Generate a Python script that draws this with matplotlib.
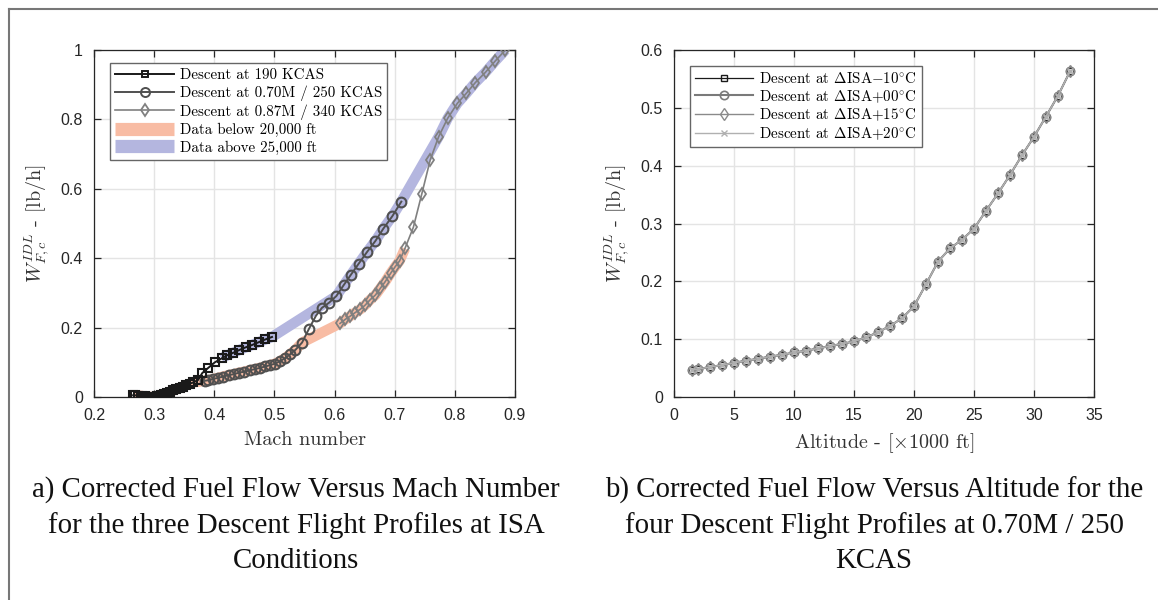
import matplotlib
matplotlib.use("Agg")
import matplotlib.pyplot as plt
from matplotlib.lines import Line2D

plt.rcParams['mathtext.fontset'] = 'cm'
plt.rcParams['axes.unicode_minus'] = False

# ---- panel a: corrected fuel flow vs Mach ----
mach_190 = [0.265, 0.268, 0.273, 0.279, 0.284, 0.289, 0.295, 0.300, 0.305, 0.311,
            0.316, 0.321, 0.327, 0.332, 0.337, 0.343, 0.348, 0.353, 0.359, 0.365,
            0.373, 0.380, 0.390, 0.401, 0.412, 0.421, 0.431, 0.441, 0.452, 0.463,
            0.474, 0.485, 0.496]
wf_190 = [0.005, 0.005, 0.004, 0.003, 0.002, 0.001, 0.000, 0.000, 0.002, 0.005,
          0.008, 0.011, 0.015, 0.019, 0.022, 0.026, 0.030, 0.034, 0.038, 0.042,
          0.049, 0.069, 0.084, 0.100, 0.111, 0.120, 0.127, 0.135, 0.143, 0.150,
          0.158, 0.166, 0.173]

mach_250 = [0.385, 0.389, 0.398, 0.406, 0.415, 0.424, 0.433, 0.441, 0.450, 0.459,
            0.467, 0.476, 0.485, 0.493, 0.501, 0.509, 0.518, 0.526, 0.535, 0.546,
            0.557, 0.569, 0.579, 0.591, 0.603, 0.615, 0.627, 0.640, 0.654, 0.668,
            0.681, 0.696, 0.711]
wf_250 = [0.047, 0.048, 0.052, 0.055, 0.059, 0.063, 0.066, 0.070, 0.073, 0.077,
          0.080, 0.084, 0.088, 0.092, 0.096, 0.103, 0.112, 0.123, 0.136, 0.157,
          0.195, 0.234, 0.257, 0.272, 0.291, 0.322, 0.352, 0.384, 0.418, 0.450,
          0.485, 0.521, 0.563]

mach_340 = [0.609, 0.618, 0.626, 0.634, 0.643, 0.651, 0.659, 0.668, 0.676, 0.684,
            0.693, 0.701, 0.708, 0.717, 0.731, 0.745, 0.759, 0.773, 0.788, 0.804,
            0.819, 0.834, 0.851, 0.867, 0.884]
wf_340 = [0.212, 0.224, 0.233, 0.243, 0.253, 0.265, 0.280, 0.294, 0.313, 0.332,
          0.356, 0.376, 0.392, 0.428, 0.489, 0.585, 0.683, 0.750, 0.803, 0.846,
          0.875, 0.906, 0.936, 0.968, 1.000]

# number of points below 20,000 ft and first point above 25,000 ft per profile
n_below = [20, 20, 14]
i_above = [24, 24, 17]

# ---- panel b: corrected fuel flow vs altitude ----
altitude = [1.5, 2, 3, 4, 5, 6, 7, 8, 9, 10, 11, 12, 13, 14, 15, 16, 17, 18, 19, 20,
            21, 22, 23, 24, 25, 26, 27, 28, 29, 30, 31, 32, 33]
wf_isa_m10 = wf_250
wf_isa_p00 = wf_250
wf_isa_p15 = wf_250
wf_isa_p20 = wf_250

orange = '#f8bca4'
blue = '#b4b6df'
tick_font = dict(family='Liberation Sans', size=11.5)


def style_axes(ax):
    ax.grid(True, color='#e4e4e4', lw=1.0)
    ax.set_axisbelow(True)
    ax.tick_params(direction='in', top=True, right=True, length=5, width=0.9,
                   colors='#262626', pad=8)
    for sp in ax.spines.values():
        sp.set_color('#262626')
        sp.set_linewidth(0.9)
    for lab in ax.get_xticklabels() + ax.get_yticklabels():
        lab.set_fontfamily(tick_font['family'])
        lab.set_fontsize(tick_font['size'])
    ax.set_ylabel(r'$W_{F,c}^{IDL}$ - [lb/h]', family='cmr10', fontsize=14.5,
                  color='#333333', labelpad=6)


fig = plt.figure(figsize=(11.58, 6.0), dpi=100)
ax1 = fig.add_axes([94 / 1158, 203 / 600, 421 / 1158, 347 / 600])
ax2 = fig.add_axes([674 / 1158, 203 / 600, 420 / 1158, 347 / 600])

# bands
series = [(mach_190, wf_190), (mach_250, wf_250), (mach_340, wf_340)]
low_x, low_y, high_x, high_y = [], [], [], []
for (m, w), nb, ia in zip(series, n_below, i_above):
    low_x += m[:nb]
    low_y += w[:nb]
    high_x += m[ia:]
    high_y += w[ia:]
ax1.plot(low_x, low_y, color=orange, lw=7.5, solid_capstyle='butt', zorder=1)
ax1.plot(high_x, high_y, color=blue, lw=7.5, solid_capstyle='butt', zorder=1)

ax1.plot(mach_340, wf_340, color='#808080', lw=1.2, marker='d', ms=6.5, mfc='none',
         mew=1.3, zorder=3)
ax1.plot(mach_250, wf_250, color='#505050', lw=1.4, marker='o', ms=7, mfc='none',
         mew=1.5, zorder=4)
ax1.plot(mach_190, wf_190, color='#1a1a1a', lw=1.4, marker='s', ms=5.5, mfc='none',
         mew=1.5, zorder=5)

ax1.set_xlim(0.2, 0.9)
ax1.set_ylim(0, 1)
ax1.set_xticks([0.2, 0.3, 0.4, 0.5, 0.6, 0.7, 0.8, 0.9])
ax1.set_xticklabels(['0.2', '0.3', '0.4', '0.5', '0.6', '0.7', '0.8', '0.9'])
ax1.set_yticks([0, 0.2, 0.4, 0.6, 0.8, 1])
ax1.set_yticklabels(['0', '0.2', '0.4', '0.6', '0.8', '1'])
ax1.set_xlabel('Mach number', family='cmr10', fontsize=14.5, color='#333333', labelpad=6)
style_axes(ax1)

h1 = [Line2D([], [], color='#1a1a1a', lw=1.4, marker='s', ms=5, mfc='none', mew=1.4),
      Line2D([], [], color='#505050', lw=1.4, marker='o', ms=6.5, mfc='none', mew=1.4),
      Line2D([], [], color='#808080', lw=1.2, marker='d', ms=6.5, mfc='none', mew=1.3),
      Line2D([], [], color=orange, lw=9.5, solid_capstyle='butt'),
      Line2D([], [], color=blue, lw=9.5, solid_capstyle='butt')]
l1 = ['Descent at 190 KCAS', 'Descent at 0.70M / 250 KCAS', 'Descent at 0.87M / 340 KCAS',
      'Data below 20,000 ft', 'Data above 25,000 ft']
leg1 = ax1.legend(h1, l1, loc='upper left', bbox_to_anchor=(16 / 421, 1 - 13 / 347),
                  borderaxespad=0, prop=dict(family='cmr10', size=10.8), fancybox=False,
                  edgecolor='#666666', framealpha=1, handlelength=3.9, labelspacing=0.22,
                  handletextpad=0.4, borderpad=0.35)
leg1.get_frame().set_linewidth(1.0)

# panel b
ax2.plot(altitude, wf_isa_m10, color='#1a1a1a', lw=0.9, marker='s', ms=5, mfc='none',
         mew=1.0, zorder=3)
ax2.plot(altitude, wf_isa_p00, color='#7a7a7a', lw=1.5, marker='o', ms=6, mfc='none',
         mew=1.2, zorder=4)
ax2.plot(altitude, wf_isa_p15, color='#8a8a8a', lw=1.0, marker='d', ms=6, mfc='none',
         mew=1.0, zorder=5)
ax2.plot(altitude, wf_isa_p20, color='#b0b0b0', lw=1.0, marker='x', ms=4.5, mew=1.0,
         zorder=6)
ax2.set_xlim(0, 35)
ax2.set_ylim(0, 0.6)
ax2.set_xticks([0, 5, 10, 15, 20, 25, 30, 35])
ax2.set_xticklabels(['0', '5', '10', '15', '20', '25', '30', '35'])
ax2.set_yticks([0, 0.1, 0.2, 0.3, 0.4, 0.5, 0.6])
ax2.set_yticklabels(['0', '0.1', '0.2', '0.3', '0.4', '0.5', '0.6'])
ax2.set_xlabel(r'Altitude - [$\times$1000 ft]', family='cmr10', fontsize=14.5,
               color='#333333', labelpad=6)
style_axes(ax2)

l2 = [r'Descent at $\Delta$ISA$-$10$^{\circ}$C', r'Descent at $\Delta$ISA$+$00$^{\circ}$C',
      r'Descent at $\Delta$ISA$+$15$^{\circ}$C', r'Descent at $\Delta$ISA$+$20$^{\circ}$C']
leg2 = ax2.legend(l2, loc='upper left', bbox_to_anchor=(16 / 420, 1 - 16 / 347),
                  borderaxespad=0, prop=dict(family='cmr10', size=10.8), fancybox=False,
                  edgecolor='#666666', framealpha=1, handlelength=3.9, labelspacing=0.14,
                  handletextpad=0.4, borderpad=0.32)
leg2.get_frame().set_linewidth(1.0)

# captions
cap_a = ('a) Corrected Fuel Flow Versus Mach Number\n'
         'for the three Descent Flight Profiles at ISA\nConditions')
cap_b = ('b) Corrected Fuel Flow Versus Altitude for the\n'
         'four Descent Flight Profiles at 0.70M / 250\nKCAS')
fig.text(296 / 1158, 1 - 525 / 600, cap_a, ha='center', va='center', family='Liberation Serif',
         fontsize=20.8, linespacing=1.42, color='#111111')
fig.text(874 / 1158, 1 - 525 / 600, cap_b, ha='center', va='center', family='Liberation Serif',
         fontsize=20.8, linespacing=1.42, color='#111111')

# page border
fig.add_artist(Line2D([9 / 1158, 1], [1 - 9 / 600, 1 - 9 / 600], color='#777777', lw=1.5))
fig.add_artist(Line2D([9 / 1158, 9 / 1158], [0, 1 - 9 / 600], color='#777777', lw=1.5))

fig.savefig('out.png', dpi=100)
